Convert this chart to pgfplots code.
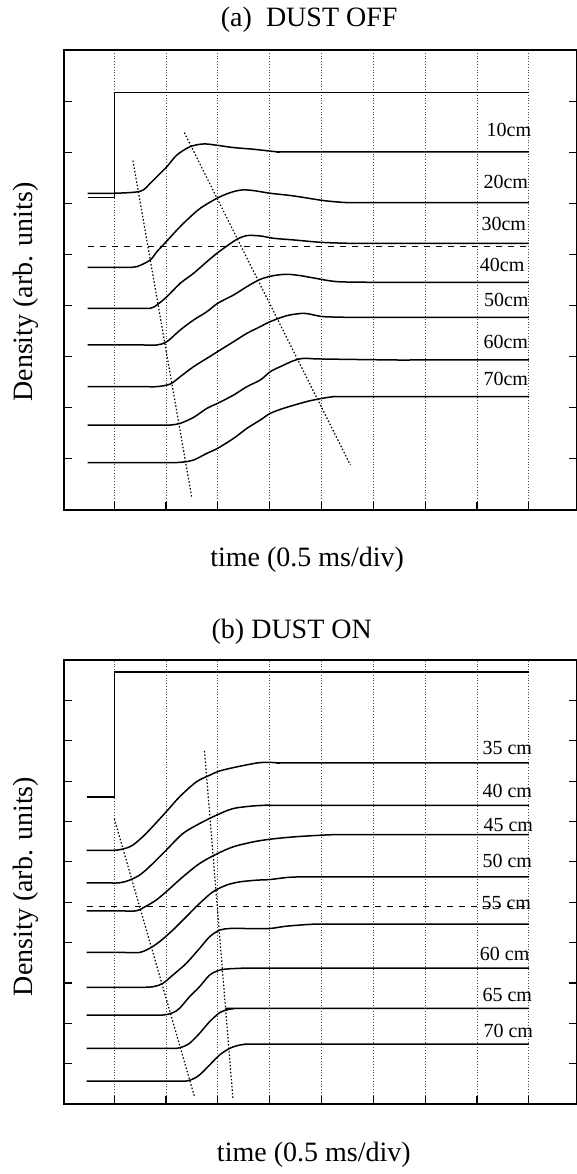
\documentclass[border=0pt]{standalone}
\usepackage{fontspec}
\setmainfont{Liberation Serif}
\usepackage{pgfplots}
\pgfplotsset{compat=1.18}

\pgfplotsset{
  panel/.style={
    scale only axis, width=256.5pt,
    xmin=0.03, xmax=9.93,
    xtick={1,...,9}, xticklabels={}, yticklabels={},
    xtick pos=bottom, ytick pos=both, tick align=inside,
    major tick length=4pt,
    xmajorgrids, grid style={densely dotted, black!70, line width=0.4pt},
    axis line style={line width=0.8pt},
    every tick/.style={black, line width=0.6pt},
    label style={font=\fontsize{14}{16}\selectfont},
    title style={font=\fontsize{14}{16}\selectfont, anchor=center},
    cycle list={{black, no markers}},
    every axis plot/.append style={black, line width=0.75pt},
  },
  trace/.style={black, no markers, smooth, tension=0.5},
}
\tikzset{tag/.style={anchor=west, font=\fontsize{10}{12}\selectfont, inner sep=0pt}}

\begin{document}
\begin{tikzpicture}
\useasboundingbox (-32pt,25pt) rectangle (256.5pt,-562pt);

% (a) dust off
\begin{axis}[panel, at={(0pt,0pt)}, anchor=north west, height=230pt,
  ymin=0, ymax=9, ytick={1,...,8},
  title={(a)~~DUST OFF},
  title style={at={(axis description cs:0.478,1)}, yshift=9pt},
  xlabel={time (0.5 ms/div)},
  xlabel style={at={(axis description cs:0.474,0)}, anchor=center, yshift=-25pt},
  ylabel={Density (arb. units)},
  ylabel style={at={(axis description cs:-0.074,0.474)}, anchor=center, rotate=0},
]
\addplot[black, no markers] coordinates {(0.485,6.112)(1.0,6.112)(1.0,8.167)(9.0,8.167)};
\addplot[trace] coordinates {(0.485,6.197)(1.0,6.197)(1.502,6.236)(1.695,6.393)(1.888,6.588)(2.017,6.719)(2.210,6.947)(2.467,7.110)(2.725,7.162)(2.982,7.136)(3.304,7.091)(3.690,7.058)(4.172,7.006)(4.5,7.006)(9.0,7.006)};
\addplot[trace] coordinates {(0.485,4.749)(1.0,4.749)(1.245,4.749)(1.438,4.762)(1.695,4.892)(1.824,5.055)(2.004,5.251)(2.210,5.479)(2.403,5.675)(2.660,5.903)(2.982,6.099)(3.239,6.210)(3.465,6.262)(3.690,6.249)(4.012,6.197)(4.462,6.145)(5.041,6.054)(5.492,6.014)(5.8,6.014)(9.0,6.014)};
\addplot[trace] coordinates {(0.485,3.947)(1.4,3.947)(1.695,3.947)(1.824,4.012)(2.017,4.175)(2.274,4.436)(2.532,4.632)(2.789,4.860)(2.982,5.023)(3.175,5.166)(3.368,5.297)(3.561,5.369)(3.819,5.362)(4.076,5.316)(4.462,5.284)(4.977,5.238)(5.492,5.219)(5.8,5.219)(9.0,5.219)};
\addplot[trace] coordinates {(0.485,3.229)(1.5,3.229)(1.824,3.229)(2.017,3.294)(2.274,3.523)(2.532,3.718)(2.789,3.881)(2.995,4.044)(3.304,4.207)(3.561,4.371)(3.819,4.514)(4.076,4.586)(4.333,4.612)(4.591,4.586)(4.848,4.540)(5.299,4.468)(6.006,4.455)(6.3,4.455)(9.0,4.455)};
\addplot[trace] coordinates {(0.485,2.414)(1.5,2.414)(1.824,2.414)(2.081,2.466)(2.274,2.609)(2.532,2.805)(2.789,2.968)(2.995,3.099)(3.304,3.294)(3.561,3.457)(3.819,3.588)(4.012,3.686)(4.333,3.803)(4.655,3.849)(4.848,3.816)(5.041,3.783)(5.492,3.770)(5.8,3.770)(9.0,3.770)};
\addplot[trace] coordinates {(0.485,1.663)(1.8,1.663)(2.081,1.663)(2.274,1.696)(2.532,1.813)(2.789,1.990)(2.995,2.087)(3.304,2.250)(3.561,2.414)(3.819,2.544)(4.012,2.707)(4.205,2.805)(4.462,2.922)(4.655,2.968)(4.977,2.955)(6.457,2.935)(6.8,2.935)(9.0,2.935)};
\addplot[trace] coordinates {(0.485,0.926)(1.85,0.926)(2.145,0.926)(2.338,0.939)(2.532,0.978)(2.789,1.109)(2.995,1.207)(3.304,1.402)(3.561,1.598)(3.819,1.761)(4.012,1.892)(4.269,1.990)(4.591,2.087)(4.848,2.153)(5.234,2.218)(5.55,2.218)(9.0,2.218)};
\addplot[black, dashed, line width=0.5pt] coordinates {(0.485,5.153)(9.0,5.153)};
\addplot[black, densely dotted, line width=0.6pt] coordinates {(1.36,6.836)(2.499,0.228)};
\addplot[black, densely dotted, line width=0.6pt] coordinates {(2.351,7.384)(5.556,0.881)};
\node[tag] at (axis cs:8.18,7.44) {10cm};
\node[tag] at (axis cs:8.12,6.41) {20cm};
\node[tag] at (axis cs:8.08,5.59) {30cm};
\node[tag] at (axis cs:8.05,4.79) {40cm};
\node[tag] at (axis cs:8.13,4.11) {50cm};
\node[tag] at (axis cs:8.12,3.29) {60cm};
\node[tag] at (axis cs:8.12,2.56) {70cm};
\end{axis}

% (b) dust on
\begin{axis}[panel, at={(0pt,-305pt)}, anchor=north west, height=222pt,
  ymin=0, ymax=11, ytick={1,...,10},
  title={(b) DUST ON},
  title style={at={(axis description cs:0.444,1)}, yshift=8pt},
  xlabel={time (0.5 ms/div)},
  xlabel style={at={(axis description cs:0.487,0)}, anchor=center, yshift=-25.5pt},
  ylabel={Density (arb. units)},
  ylabel style={at={(axis description cs:-0.074,0.49)}, anchor=center, rotate=0},
]
\addplot[black, no markers] coordinates {(0.465,7.607)(1.0,7.607)(1.0,10.701)(9.0,10.701)};
\addplot[trace] coordinates {(0.465,6.287)(1.0,6.287)(1.194,6.328)(1.355,6.411)(1.613,6.700)(2.0,7.236)(2.258,7.607)(2.581,7.978)(2.839,8.144)(3.032,8.251)(3.355,8.350)(3.677,8.432)(3.806,8.457)(4.0,8.465)(4.194,8.449)(4.5,8.449)(9.0,8.449)};
\addplot[trace] coordinates {(0.465,5.479)(0.8,5.479)(1.097,5.479)(1.290,5.545)(1.484,5.668)(1.677,5.875)(2.0,6.287)(2.323,6.700)(2.645,6.947)(2.968,7.153)(3.290,7.318)(3.677,7.384)(4.0,7.401)(4.3,7.401)(9.0,7.401)};
\addplot[trace] coordinates {(0.465,4.785)(1.1,4.785)(1.419,4.785)(1.613,4.901)(1.806,5.050)(2.0,5.256)(2.323,5.627)(2.645,5.957)(2.968,6.188)(3.290,6.370)(3.677,6.493)(4.0,6.559)(4.452,6.617)(4.968,6.658)(5.290,6.675)(5.6,6.675)(9.0,6.675)};
\addplot[trace] coordinates {(0.465,3.754)(1.2,3.754)(1.484,3.754)(1.677,3.853)(1.871,4.018)(2.129,4.307)(2.387,4.637)(2.645,4.967)(2.903,5.256)(3.161,5.421)(3.419,5.503)(3.742,5.545)(4.0,5.561)(4.323,5.611)(4.581,5.627)(4.9,5.627)(9.0,5.627)};
\addplot[trace] coordinates {(0.465,2.888)(1.1,2.888)(1.419,2.888)(1.742,2.904)(1.935,2.987)(2.129,3.193)(2.387,3.482)(2.645,3.853)(2.839,4.142)(3.032,4.307)(3.226,4.348)(3.548,4.348)(4.0,4.348)(4.323,4.406)(4.839,4.455)(5.15,4.455)(9.0,4.455)};
\addplot[trace] coordinates {(0.465,2.203)(1.65,2.203)(1.935,2.203)(2.129,2.261)(2.258,2.368)(2.452,2.657)(2.645,2.904)(2.839,3.193)(3.032,3.317)(3.226,3.350)(3.548,3.366)(3.85,3.366)(9.0,3.366)};
\addplot[trace] coordinates {(0.465,1.378)(1.9,1.378)(2.194,1.378)(2.323,1.419)(2.452,1.502)(2.645,1.749)(2.839,2.038)(3.032,2.261)(3.161,2.327)(3.290,2.360)(3.6,2.368)(9.0,2.368)};
\addplot[trace] coordinates {(0.465,0.569)(2.1,0.569)(2.387,0.569)(2.516,0.619)(2.645,0.718)(2.839,0.965)(3.032,1.213)(3.226,1.378)(3.419,1.460)(3.613,1.485)(3.9,1.485)(9.0,1.485)};
\addplot[black, dashed, line width=0.5pt] coordinates {(0.465,4.901)(9.0,4.901)};
\addplot[black, densely dotted, line width=0.6pt] coordinates {(1.0,7.071)(2.548,0.182)};
\addplot[black, densely dotted, line width=0.6pt] coordinates {(2.742,8.746)(3.290,0.140)};
\node[tag] at (axis cs:8.10,8.82) {35 cm};
\node[tag] at (axis cs:8.10,7.76) {40 cm};
\node[tag] at (axis cs:8.12,6.91) {45 cm};
\node[tag] at (axis cs:8.10,6.02) {50 cm};
\node[tag] at (axis cs:8.08,4.98) {55 cm};
\node[tag] at (axis cs:8.05,3.73) {60 cm};
\node[tag] at (axis cs:8.10,2.71) {65 cm};
\node[tag] at (axis cs:8.12,1.82) {70 cm};
\end{axis}
\end{tikzpicture}
\end{document}
